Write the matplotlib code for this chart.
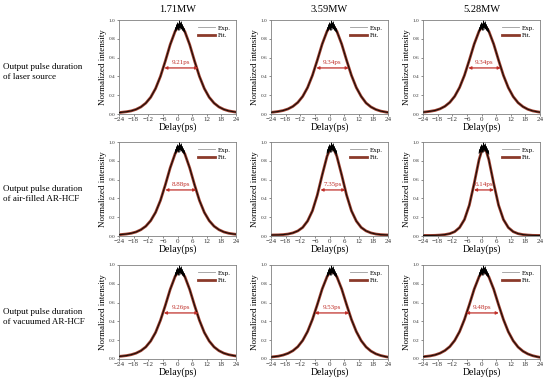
import matplotlib
matplotlib.use("Agg")
import matplotlib.pyplot as plt
from matplotlib.lines import Line2D

plt.rcParams['font.family'] = ['Liberation Serif', 'DejaVu Serif']

# ---------------- data ----------------
col_titles = ["1.71MW", "3.59MW", "5.28MW"]
row_labels = ["Output pulse duration\nof laser source",
              "Output pulse duration\nof air-filled AR-HCF",
              "Output pulse duration\nof vacuumed AR-HCF"]

delay = [-24, -23, -21, -19, -17, -15, -13, -11, -9, -7, -5, -3, -1, 0,
         1, 2, 3, 5, 7, 9, 11, 13, 15, 17, 19, 21, 23, 24]

fit_r1c1 = [.015, .018, .024, .033, .049, .075, .116, .178, .271, .400, .563, .738, .878, .919,
            .933, .919, .878, .738, .563, .400, .271, .178, .116, .075, .049, .033, .024, .020]
fit_r1c2 = [.018, .020, .027, .037, .054, .081, .123, .187, .281, .411, .573, .744, .881, .921,
            .935, .921, .881, .744, .573, .411, .281, .187, .117, .075, .048, .031, .021, .017]
fit_r1c3 = [.020, .022, .029, .038, .055, .082, .124, .188, .282, .411, .573, .744, .881, .921,
            .935, .921, .881, .744, .573, .410, .280, .185, .120, .078, .050, .033, .023, .019]
fit_r2c1 = [.014, .016, .021, .029, .043, .067, .104, .163, .251, .378, .544, .725, .874, .918,
            .933, .918, .874, .725, .544, .378, .251, .163, .104, .067, .043, .029, .021, .018]
fit_r2c2 = [.010, .011, .012, .015, .021, .033, .054, .091, .159, .268, .436, .649, .849, .911,
            .933, .911, .849, .649, .436, .268, .159, .091, .054, .033, .021, .015, .012, .011]
fit_r2c3 = [.006, .006, .006, .007, .010, .015, .025, .046, .090, .175, .328, .560, .813, .899,
            .930, .899, .813, .560, .328, .175, .090, .046, .025, .015, .010, .007, .006, .006]
fit_r3c1 = [.028, .030, .036, .046, .062, .088, .128, .191, .282, .411, .570, .740, .877, .916,
            .930, .916, .877, .740, .570, .411, .282, .191, .128, .088, .062, .046, .036, .032]
fit_r3c2 = [.021, .024, .030, .042, .060, .088, .131, .197, .292, .421, .579, .745, .876, .914,
            .927, .914, .876, .745, .579, .421, .292, .195, .128, .084, .055, .037, .025, .020]
fit_r3c3 = [.024, .027, .033, .044, .062, .090, .132, .197, .291, .420, .577, .743, .875, .913,
            .926, .913, .875, .743, .577, .420, .290, .194, .127, .083, .054, .035, .023, .018]

curves = [[fit_r1c1, fit_r1c2, fit_r1c3],
          [fit_r2c1, fit_r2c2, fit_r2c3],
          [fit_r3c1, fit_r3c2, fit_r3c3]]

# noisy experimental points at the top of each trace
peak_delay = [-1.0, -0.8, -0.6, -0.4, -0.2, 0.0, 0.2, 0.4, 0.6, 0.8, 1.0,
              1.2, 1.4, 1.6, 1.8, 2.0, 2.2, 2.4, 2.6, 2.8, 3.0]
peak_value = [0.88, 0.92, 0.89, 0.95, 0.90, 0.97, 0.91, 0.96, 0.89, 0.99, 0.92,
              0.97, 0.90, 0.98, 0.91, 0.95, 0.89, 0.93, 0.88, 0.91, 0.87]

fwhm_labels = [["9.21ps", "9.34ps", "9.34ps"],
               ["8.88ps", "7.35ps", "6.14ps"],
               ["9.26ps", "9.53ps", "9.48ps"]]
arrow_left = [[-5.4, -5.4, -5.4],
              [-5.0, -3.7, -3.1],
              [-5.6, -6.1, -6.4]]
arrow_right = [[8.5, 7.9, 7.9],
               [7.7, 6.5, 5.1],
               [8.6, 8.1, 7.1]]

xticks = [-24, -18, -12, -6, 0, 6, 12, 18, 24]
yticks = [0.0, 0.2, 0.4, 0.6, 0.8, 1.0]

# ---------------- layout / style ----------------
W, H = 550, 382
col_left = [119, 271, 423]
row_top = [20, 142, 265]
aw, ah = 117, 94
fit_color = "#a04030"
arrow_color = "#c0302a"

fig = plt.figure(figsize=(W / 100, H / 100), dpi=100)

for r in range(3):
    for c in range(3):
        ax = fig.add_axes([col_left[c] / W, 1 - (row_top[r] + ah) / H, aw / W, ah / H])
        ax.plot(delay, curves[r][c], color=fit_color, lw=2.0, solid_joinstyle='round', zorder=2)
        ax.plot(delay, curves[r][c], color="#1a0d08", lw=0.8, zorder=3)
        ax.plot(peak_delay, peak_value, color="black", lw=0.6, zorder=3)
        ax.annotate("", xy=(arrow_left[r][c], 0.49), xytext=(arrow_right[r][c], 0.49),
                    arrowprops=dict(arrowstyle="<|-|>", color=arrow_color, lw=0.9,
                                    mutation_scale=4, shrinkA=0, shrinkB=0), zorder=4)
        ax.text((arrow_left[r][c] + arrow_right[r][c]) / 2, 0.52, fwhm_labels[r][c],
                color=arrow_color, fontsize=5, ha="center", va="bottom", zorder=5)
        ax.set_xlim(-24, 24)
        ax.set_ylim(0, 1.0)
        ax.set_xticks(xticks)
        ax.set_xticklabels([f"{t:d}".replace("-", "\u2212") for t in xticks], fontsize=5)
        ax.set_yticks(yticks)
        ax.set_yticklabels([f"{t:.1f}" for t in yticks], fontsize=3.8)
        ax.tick_params(axis="both", length=1.5, width=0.4, pad=1, colors="#333333")
        for sp in ax.spines.values():
            sp.set_color("#808080")
            sp.set_linewidth(0.6)
        ax.set_xlabel("Delay(ps)", fontsize=7, labelpad=0)
        ax.set_ylabel("Normalized intensity", fontsize=6.5, labelpad=1)
        handles = [Line2D([], [], color="#9a9a9a", lw=0.6),
                   Line2D([], [], color="#8b3a2a", lw=2.0)]
        ax.legend(handles, ["Exp.", "Fit."], loc="upper right", frameon=False, fontsize=5,
                  handlelength=2.4, borderaxespad=0.3, labelspacing=0.25, handletextpad=0.5)

for c in range(3):
    fig.text((col_left[c] + aw / 2) / W, 1 - 10 / H, col_titles[c], fontsize=7.5,
             ha="center", va="center")

for r in range(3):
    fig.text(3 / W, 1 - (row_top[r] + 52) / H, row_labels[r], fontsize=6.5,
             ha="left", va="center", linespacing=1.4)

fig.savefig("out.png", dpi=100)
